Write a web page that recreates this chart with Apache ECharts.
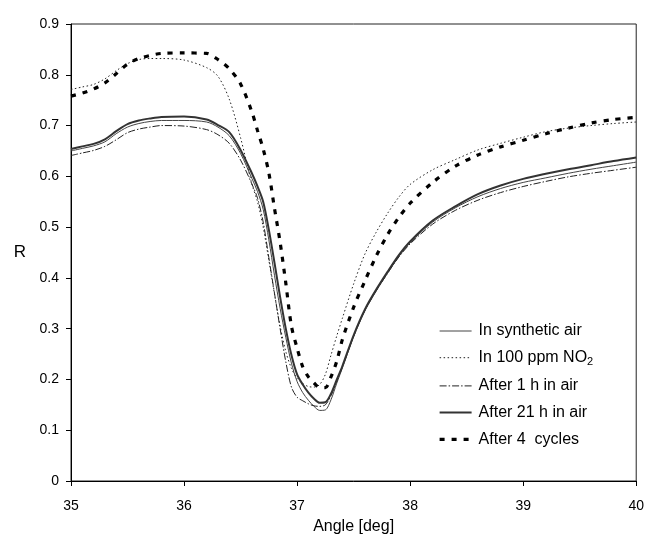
<!DOCTYPE html>
<html>
<head>
<meta charset="utf-8">
<script src="https://cdn.jsdelivr.net/npm/echarts@6/dist/echarts.min.js"></script>
<style>
html,body{margin:0;padding:0;background:#fff;}
#chart{width:647px;height:540px;}
</style>
</head>
<body>
<div id="chart"></div>
<script>
var angles = [35.0,35.1,35.2,35.3,35.4,35.5,35.6,35.7,35.8,36.0,36.2,36.3,36.4,36.5,36.6,36.65,36.7,36.75,36.8,36.85,36.9,36.95,37.0,37.05,37.1,37.15,37.2,37.25,37.3,37.35,37.4,37.5,37.6,37.7,37.8,37.9,38.0,38.2,38.4,38.6,38.8,39.0,39.2,39.4,39.6,39.8,40.0];

var synthAir = [0.650,0.655,0.660,0.668,0.684,0.697,0.704,0.708,0.710,0.710,0.707,0.697,0.680,0.645,0.596,0.570,0.535,0.475,0.405,0.340,0.283,0.232,0.196,0.174,0.159,0.147,0.139,0.140,0.160,0.192,0.222,0.284,0.335,0.374,0.409,0.442,0.469,0.510,0.538,0.560,0.576,0.588,0.597,0.606,0.614,0.621,0.628];

var no2 = [0.771,0.776,0.781,0.792,0.808,0.822,0.830,0.832,0.832,0.829,0.814,0.797,0.752,0.676,0.585,0.550,0.500,0.435,0.368,0.305,0.255,0.222,0.202,0.192,0.186,0.185,0.190,0.210,0.248,0.285,0.320,0.388,0.447,0.490,0.527,0.559,0.584,0.613,0.633,0.652,0.665,0.677,0.688,0.695,0.700,0.704,0.707];

var after1h = [0.641,0.646,0.651,0.659,0.672,0.686,0.693,0.697,0.700,0.699,0.692,0.682,0.665,0.632,0.585,0.557,0.510,0.440,0.370,0.300,0.235,0.185,0.165,0.158,0.152,0.148,0.147,0.150,0.168,0.196,0.224,0.285,0.336,0.375,0.409,0.441,0.467,0.506,0.533,0.553,0.568,0.580,0.590,0.599,0.606,0.612,0.618];

var after21h = [0.654,0.659,0.664,0.673,0.689,0.703,0.710,0.714,0.717,0.718,0.712,0.701,0.687,0.652,0.606,0.580,0.550,0.495,0.430,0.362,0.300,0.248,0.210,0.190,0.174,0.162,0.154,0.155,0.172,0.199,0.226,0.287,0.338,0.377,0.412,0.445,0.472,0.513,0.541,0.565,0.582,0.595,0.605,0.614,0.622,0.630,0.637];

var after4cycles = [0.758,0.764,0.772,0.784,0.802,0.821,0.832,0.838,0.842,0.843,0.842,0.830,0.812,0.782,0.727,0.690,0.654,0.607,0.537,0.470,0.390,0.305,0.262,0.225,0.205,0.193,0.184,0.184,0.205,0.235,0.278,0.342,0.394,0.443,0.485,0.519,0.547,0.588,0.620,0.642,0.658,0.671,0.684,0.695,0.705,0.712,0.716];

var seriesNames = ['In synthetic air','In 100 ppm NO2','After 1 h in air','After 21 h in air','After 4  cycles'];
var xTicks = [35,36,37,38,39,40];
var yTicks = [0,0.1,0.2,0.3,0.4,0.5,0.6,0.7,0.8,0.9];

function pairs(vals){ return angles.map(function(a,i){ return [a, vals[i]]; }); }

var FONT = 'Liberation Sans, Arial, sans-serif';
var styles = [
  {color:'#444',width:1,type:'solid'},
  {color:'#222',width:1,type:[1.5,2.5]},
  {color:'#222',width:1,type:[7,2,1.5,2]},
  {color:'#333',width:2,type:'solid'},
  {color:'#000',width:3.2,type:[5,7]}
];
var chart = echarts.init(document.getElementById('chart'), null, {renderer:'canvas'});
var dataSets = [synthAir,no2,after1h,after21h,after4cycles];
var option = {
  animation:false,
  backgroundColor:'#fff',
  grid:{left:71,right:10,top:24,bottom:55,show:true,borderColor:'#222',borderWidth:1,backgroundColor:'transparent'},
  legend:{
    orient:'vertical',left:433,top:318,
    itemWidth:32,itemHeight:16,itemGap:10.7,
    itemStyle:{opacity:0},
    textStyle:{fontFamily:FONT,fontSize:16,color:'#000',padding:[0,0,0,2],
      rich:{sub:{fontFamily:FONT,fontSize:11,color:'#000',verticalAlign:'bottom',padding:[8,0,0,0]}}},
    formatter:function(n){ return n==='In 100 ppm NO2' ? 'In 100 ppm NO{sub|2}' : n; },
    data:seriesNames.map(function(n,i){
      return {name:n,lineStyle:{color:styles[i].color,width:styles[i].width,type:styles[i].type}};
    })
  },
  xAxis:{
    type:'value',min:xTicks[0],max:xTicks[xTicks.length-1],interval:1,
    name:'Angle [deg]',nameLocation:'middle',nameGap:38,
    nameTextStyle:{fontFamily:FONT,fontSize:16,color:'#000'},
    axisLine:{lineStyle:{color:'#000',width:1}},
    axisTick:{show:true,length:5,lineStyle:{color:'#000'}},
    axisLabel:{fontFamily:FONT,fontSize:14,color:'#000',margin:18},
    splitLine:{show:false}
  },
  yAxis:{
    type:'value',min:yTicks[0],max:yTicks[yTicks.length-1],interval:0.1,
    name:'R',nameLocation:'middle',nameGap:45,nameRotate:0,
    nameTextStyle:{fontFamily:FONT,fontSize:17,color:'#000'},
    axisLine:{show:true,lineStyle:{color:'#000',width:1}},
    axisTick:{show:true,length:5,lineStyle:{color:'#000'}},
    axisLabel:{fontFamily:FONT,fontSize:14,color:'#000',margin:12,
      formatter:function(v){ return String(+v.toFixed(1)); }},
    splitLine:{show:false}
  },
  series:seriesNames.map(function(n,i){
    return {name:n,type:'line',data:pairs(dataSets[i]),showSymbol:false,symbol:'none',smooth:0.3,
      lineStyle:styles[i],itemStyle:{color:styles[i].color}};
  })
};
chart.setOption(option);
</script>
</body>
</html>
